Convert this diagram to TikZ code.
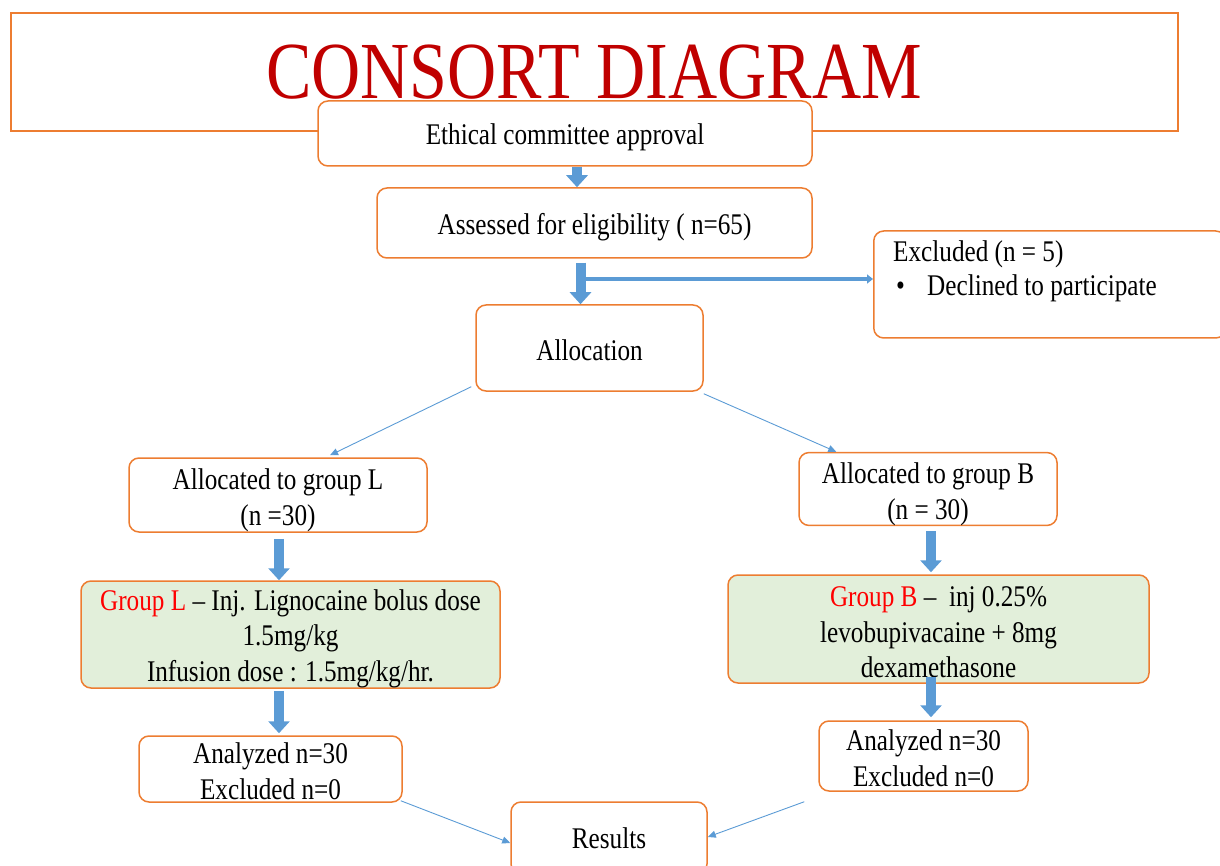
\documentclass[tikz,border=0pt]{standalone}
\usepackage{fontspec}
\setmainfont{Liberation Serif}[FakeStretch=0.84]
\usetikzlibrary{arrows.meta,calc}
\definecolor{boxorange}{HTML}{ED7D31}
\definecolor{drugfill}{HTML}{E2EFDA}
\definecolor{arrowblue}{HTML}{5B9BD5}
\definecolor{titlered}{HTML}{C00000}
% push the first line of a box down a little
\newcommand\boxlift[1]{\rule{0pt}{#1pt}}
\tikzset{
  box/.style={draw=boxorange, line width=1.5pt, rounded corners=10pt, fill=white,
    inner sep=0pt, align=center, font=\fontsize{30}{35.5}\selectfont},
  drugbox/.style={box, fill=drugfill},
  bigarrow/.style={draw=arrowblue, line width=10pt, -{Triangle[width=21pt,length=12pt]}},
  sidearrow/.style={draw=arrowblue, line width=4pt, -{Triangle[width=9pt,length=6pt]}},
  thinarrow/.style={draw=arrowblue, line width=0.9pt, -{Triangle[width=7pt,length=8pt]}},
  txt/.style={font=\fontsize{30}{35.5}\selectfont, inner sep=0pt}
}
\begin{document}
\begin{tikzpicture}[x=1pt,y=-1pt]
\useasboundingbox (0,0) rectangle (1220,866);

% title frame
\node[draw=boxorange, line width=1.5pt, minimum width=1167pt, minimum height=118pt, inner sep=0pt] (frame) at (594.5,72) {};
\node[anchor=base, text=titlered, inner sep=0pt, font=\fontsize{81}{90}\selectfont] (title) at (594,99) {CONSORT DIAGRAM};

\node[box, minimum width=494pt, minimum height=65pt] (eth) at (565,133.5) {\boxlift{29}Ethical committee approval};
\node[box, minimum width=435pt, minimum height=70pt] (ass) at (594.5,223) {\boxlift{29}Assessed for eligibility ( n=65)};
\node[box, minimum width=352pt, minimum height=107pt, anchor=west] (excl) at (873,284.5) {};
\node[txt, anchor=base west] (exclhead) at (893,262) {Excluded (n = 5)};
\node[txt, anchor=base west] (exclitem) at (896,296) {\makebox[31pt][l]{•}Declined to participate};
\node[box, minimum width=227pt, minimum height=86pt] (alloc) at (589.5,348) {\boxlift{25}Allocation};

\node[box, minimum width=298pt, minimum height=74pt] (alocL) at (278,495) {\boxlift{31}Allocated to group L\\(n =30)};
\node[box, minimum width=258pt, minimum height=68pt] (alocB) at (928,489) {\boxlift{31}Allocated to group B\\(n = 30)};

\node[drugbox, minimum width=419pt, minimum height=107pt] (grpL) at (290.5,634.5)
  {\boxlift{29}{\color{red}Group L} -- Inj. Lignocaine bolus dose\\1.5mg/kg\\Infusion dose : 1.5mg/kg/hr.};
\node[drugbox, minimum width=421pt, minimum height=108pt] (grpB) at (938.5,629)
  {\boxlift{27}{\color{red}Group B} --\ \ inj 0.25\%\\levobupivacaine + 8mg\\dexamethasone};

\node[box, minimum width=263pt, minimum height=66pt] (anaL) at (270.5,769) {\boxlift{25}Analyzed n=30\\Excluded n=0};
\node[box, minimum width=209pt, minimum height=70pt] (anaB) at (923.5,756) {\boxlift{25}Analyzed n=30\\Excluded n=0};
\node[box, minimum width=196pt, minimum height=72pt] (res) at (609,838) {Results};

% block arrows down the middle
\coordinate (ax1) at (577,0);
\coordinate (ax2) at (580.5,0);
\coordinate (split) at (580.5,279);
\draw[bigarrow] (eth.south -| ax1) -- (ass.north -| ax1);
\draw[bigarrow] ($(ass.south -| ax2)+(0,4)$) -- (alloc.north -| ax2);
\draw[sidearrow] (split) -- (split -| excl.west);

% the two arms
\draw[thinarrow] ($(alloc.south west)+(-4,-5)$) -- ($(alocL.north)+(52,-2)$);
\draw[thinarrow] ($(alloc.south east)+(0,2)$) -- ($(alocB.north west)+(38,0)$);
\draw[bigarrow] ($(alocL.south)+(1,6)$) -- ($(grpL.north -| alocL.south)+(1,0)$);
\draw[bigarrow] ($(grpL.south -| alocL.south)+(1,2)$) -- ($(anaL.north -| alocL.south)+(1,-2)$);
\draw[bigarrow] ($(alocB.south)+(3,5)$) -- ($(grpB.north -| alocB.south)+(3,-2)$);
\draw[bigarrow] ($(grpB.south -| alocB.south)+(3,-7)$) -- ($(anaB.north -| alocB.south)+(3,-3)$);

% into results
\draw[thinarrow] ($(anaL.south east)+(-2,-2)$) -- ($(res.west)+(0,5)$);
\draw[thinarrow] ($(anaB.south west)+(-14,10)$) -- ($(res.east)+(0,-1)$);
\end{tikzpicture}
\end{document}
